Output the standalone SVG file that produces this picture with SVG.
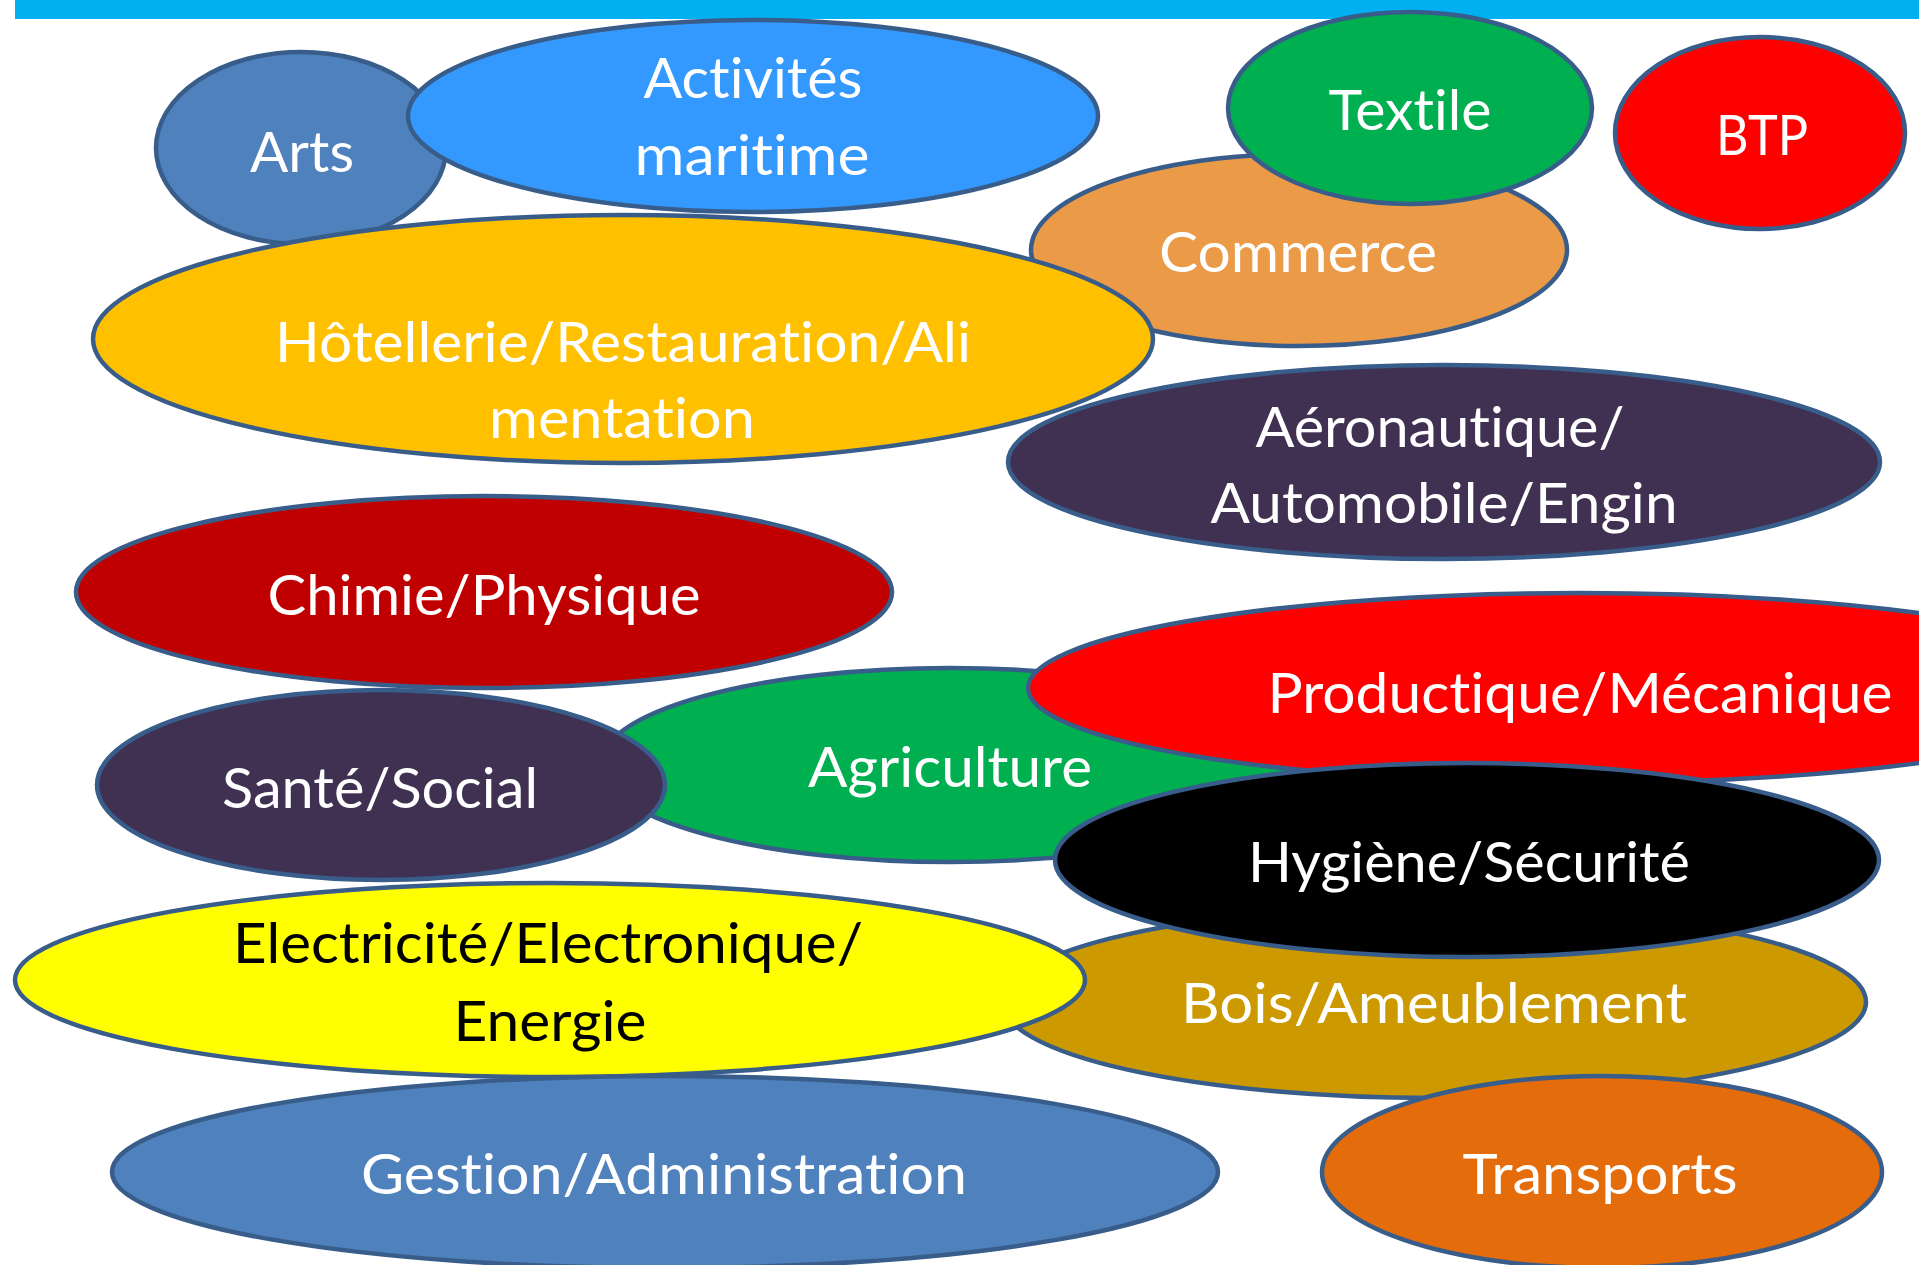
<svg xmlns="http://www.w3.org/2000/svg" width="1919" height="1265" viewBox="0 0 1919 1265">
<style>
.n{stroke:#385D8A;stroke-width:4.5}
.t{font-family:Lato,"Liberation Sans",sans-serif;font-size:56px;fill:#FFFFFF;text-anchor:middle;font-variant-ligatures:none;font-feature-settings:"liga" 0,"clig" 0,"dlig" 0}
.k{fill:#000000}
</style>
<rect x="0" y="0" width="1919" height="1265" fill="#FFFFFF"/>
<rect x="15" y="0" width="1904" height="19" fill="#00B0F0"/>
<g id="connectors"></g>
<g id="arts"><ellipse class="n" cx="301" cy="148" rx="145" ry="96" fill="#4F81BD"/><text class="t" x="302" y="172" textLength="104" lengthAdjust="spacingAndGlyphs">Arts</text></g>
<g id="activites"><ellipse class="n" cx="753" cy="116" rx="345" ry="96" fill="#3399FF"/><text class="t" x="753" y="98" textLength="219" lengthAdjust="spacingAndGlyphs">Activités</text><text class="t" x="752" y="175" textLength="235" lengthAdjust="spacingAndGlyphs">maritime</text></g>
<g id="commerce"><ellipse class="n" cx="1299" cy="250" rx="268" ry="96" fill="#EB9A47"/><text class="t" x="1298" y="272" textLength="278" lengthAdjust="spacingAndGlyphs">Commerce</text></g>
<g id="textile"><ellipse class="n" cx="1410" cy="108" rx="182" ry="96" fill="#00B050"/><text class="t" x="1410" y="130" textLength="163" lengthAdjust="spacingAndGlyphs">Textile</text></g>
<g id="btp"><ellipse class="n" cx="1760" cy="133" rx="145" ry="96" fill="#FF0000"/><text class="t" x="1762" y="155" textLength="92" lengthAdjust="spacingAndGlyphs">BTP</text></g>
<g id="hotellerie"><ellipse class="n" cx="623" cy="339" rx="530" ry="124" fill="#FFC000"/><text class="t" x="623" y="362" textLength="696" lengthAdjust="spacingAndGlyphs">Hôtellerie/Restauration/Ali</text><text class="t" x="622" y="438" textLength="266" lengthAdjust="spacingAndGlyphs">mentation</text></g>
<g id="aeronautique"><ellipse class="n" cx="1444" cy="462" rx="436" ry="97" fill="#403152"/><text class="t" x="1440" y="447" textLength="369" lengthAdjust="spacingAndGlyphs">Aéronautique/</text><text class="t" x="1444" y="523" textLength="467" lengthAdjust="spacingAndGlyphs">Automobile/Engin</text></g>
<g id="chimie"><ellipse class="n" cx="484" cy="592" rx="408" ry="96" fill="#C00000"/><text class="t" x="484" y="615" textLength="433" lengthAdjust="spacingAndGlyphs">Chimie/Physique</text></g>
<g id="agriculture"><ellipse class="n" cx="950" cy="765" rx="350" ry="97" fill="#00B050"/><text class="t" x="950" y="787" textLength="284" lengthAdjust="spacingAndGlyphs">Agriculture</text></g>
<g id="productique"><ellipse class="n" cx="1580" cy="688" rx="552" ry="95" fill="#FF0000"/><text class="t" x="1580" y="713" textLength="625" lengthAdjust="spacingAndGlyphs">Productique/Mécanique</text></g>
<g id="sante"><ellipse class="n" cx="381" cy="785" rx="284" ry="95" fill="#403152"/><text class="t" x="380" y="808" textLength="316" lengthAdjust="spacingAndGlyphs">Santé/Social</text></g>
<g id="bois"><ellipse class="n" cx="1434" cy="1002" rx="432" ry="96" fill="#CC9900"/><text class="t" x="1434" y="1023" textLength="506" lengthAdjust="spacingAndGlyphs">Bois/Ameublement</text></g>
<g id="hygiene"><ellipse class="n" cx="1467" cy="860" rx="412" ry="97" fill="#000000"/><text class="t" x="1469" y="882" textLength="442" lengthAdjust="spacingAndGlyphs">Hygiène/Sécurité</text></g>
<g id="electricite"><ellipse class="n" cx="550" cy="980" rx="535" ry="97" fill="#FFFF00"/><text class="t k" x="548" y="963" textLength="630" lengthAdjust="spacingAndGlyphs">Electricité/Electronique/</text><text class="t k" x="550" y="1041" textLength="193" lengthAdjust="spacingAndGlyphs">Energie</text></g>
<g id="gestion"><ellipse class="n" cx="665" cy="1172" rx="553" ry="96" fill="#4F81BD"/><text class="t" x="664" y="1194" textLength="606" lengthAdjust="spacingAndGlyphs">Gestion/Administration</text></g>
<g id="transports"><ellipse class="n" cx="1602" cy="1172" rx="280" ry="96" fill="#E46C0A"/><text class="t" x="1600" y="1194" textLength="275" lengthAdjust="spacingAndGlyphs">Transports</text></g>
</svg>
